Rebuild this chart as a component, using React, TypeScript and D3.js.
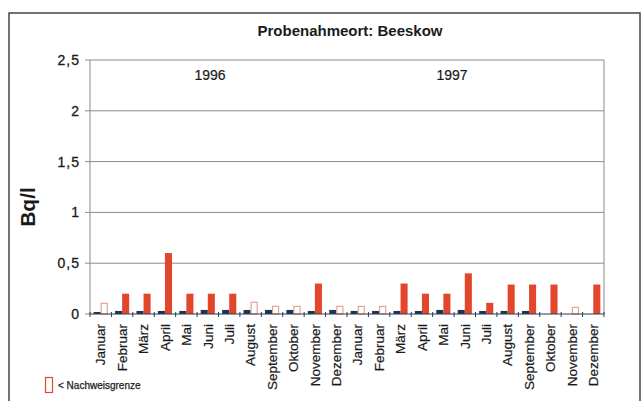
import React from "react";
import * as d3 from "d3";

const months = ["Januar","Februar","März","April","Mai","Juni","Juli","August","September","Oktober","November","Dezember"];
const years = ["1996", "1997"];
const categories = years.flatMap((y) => months.map((m) => `${y}-${m}`));
const blueValues = [0.02,0.03,0.03,0.03,0.03,0.04,0.04,0.04,0.04,0.04,0.03,0.04, 0.03,0.03,0.03,0.03,0.04,0.04,0.03,0.03,0.03,0,0,0];
const redValues = [0.11,0.2,0.2,0.6,0.2,0.2,0.2,0.12,0.08,0.08,0.3,0.08, 0.08,0.08,0.3,0.2,0.2,0.4,0.11,0.29,0.29,0.29,0.07,0.29];
const belowLimit = [true,false,false,false,false,false,false,true,true,true,false,true, true,true,false,false,false,false,false,false,false,false,true,false];
const yTicks = [0, 0.5, 1, 1.5, 2, 2.5];
const yTickLabels = ["0", "0,5", "1", "1,5", "2", "2,5"];

const W = 642, H = 401;
const L = 90, R = 604, T = 60, B = 314;
const FONT = "Liberation Sans, Arial, sans-serif";
const RED = "#e2472c";
const BLUE = "#1e3450";
const HOLLOW = "#e6a58c";

export default function App() {
  const x = d3.scaleBand<string>().domain(categories).range([L, R]).paddingInner(0.34).paddingOuter(0.17);
  const sub = d3.scaleBand<string>().domain(["blue", "red"]).range([0, x.bandwidth()]);
  const y = d3.scaleLinear().domain([0, 2.5]).range([B, T]);
  const step = x.step();
  const boundaries = d3.range(categories.length + 1).map((i) => L + i * step);

  return (
    <div style={{ position: "absolute", left: 0, top: 0 }}>
      <svg width={W} height={H} style={{ display: "block", background: "#fff" }}>
        <rect x={9} y={13} width={631} height={420} fill="none" stroke="#444" strokeWidth={1.5} />
        <text x={350} y={36} textAnchor="middle" fontFamily={FONT} fontWeight="bold" fontSize={15} fill="#1a1a1a">Probenahmeort: Beeskow</text>
        {yTicks.map((t, i) => (
          <g key={t}>
            {t > 0 && <line x1={L} x2={R} y1={y(t)} y2={y(t)} stroke="#8a8a8a" strokeWidth={1} />}
            <line x1={L - 5} x2={L} y1={y(t)} y2={y(t)} stroke="#8a8a8a" strokeWidth={1} />
            <text x={L - 10} y={y(t)} dy="0.35em" textAnchor="end" fontFamily={FONT} fontSize={14} fill="#1a1a1a" stroke="#1a1a1a" strokeWidth={0.3} letterSpacing={1}>{yTickLabels[i]}</text>
          </g>
        ))}
        <line x1={L} x2={L} y1={T} y2={B} stroke="#8a8a8a" strokeWidth={1} />
        <line x1={R} x2={R} y1={T} y2={B} stroke="#8a8a8a" strokeWidth={1} />
        <text x={210} y={80} textAnchor="middle" fontFamily={FONT} fontSize={14} fill="#1a1a1a" stroke="#1a1a1a" strokeWidth={0.2}>{years[0]}</text>
        <text x={452} y={80} textAnchor="middle" fontFamily={FONT} fontSize={14} fill="#1a1a1a" stroke="#1a1a1a" strokeWidth={0.2}>{years[1]}</text>
        <text transform="translate(35,207) rotate(-90)" textAnchor="middle" fontFamily={FONT} fontWeight="bold" fontSize={21} fill="#1a1a1a">Bq/l</text>
        {categories.map((c, i) => {
          const x0 = x(c)!;
          const bw = sub.bandwidth();
          return (
            <g key={c}>
              {blueValues[i] > 0 && (
                <rect x={x0 + sub("blue")!} y={y(blueValues[i])} width={bw} height={B - y(blueValues[i])} fill={BLUE} />
              )}
              {belowLimit[i] ? (
                <rect x={x0 + sub("red")! + 0.5} y={y(redValues[i]) + 0.5} width={bw - 1} height={B - y(redValues[i]) - 0.5} fill="none" stroke={HOLLOW} strokeWidth={1.2} />
              ) : (
                <rect x={x0 + sub("red")!} y={y(redValues[i])} width={bw} height={B - y(redValues[i])} fill={RED} />
              )}
            </g>
          );
        })}
        <line x1={L} x2={R} y1={B} y2={B} stroke="#2a3a55" strokeWidth={1.2} />
        {boundaries.map((bx, i) => (
          <line key={i} x1={bx} x2={bx} y1={B - 2} y2={B + 3} stroke="#2a3a55" strokeWidth={1} />
        ))}
        {categories.map((c, i) => (
          <text key={c} transform={`translate(${x(c)! + x.bandwidth() / 2},${B + 10}) rotate(-90)`} dy="0.35em" textAnchor="end" fontFamily={FONT} fontSize={13.5} fill="#1a1a1a" stroke="#1a1a1a" strokeWidth={0.2}>{months[i % 12]}</text>
        ))}
        <rect x={45.5} y={377.5} width={7} height={15} fill="none" stroke={RED} strokeWidth={1.2} />
        <text x={58} y={389} fontFamily={FONT} fontSize={10} fill="#1a1a1a" stroke="#1a1a1a" strokeWidth={0.25}>&lt; Nachweisgrenze</text>
      </svg>
    </div>
  );
}
